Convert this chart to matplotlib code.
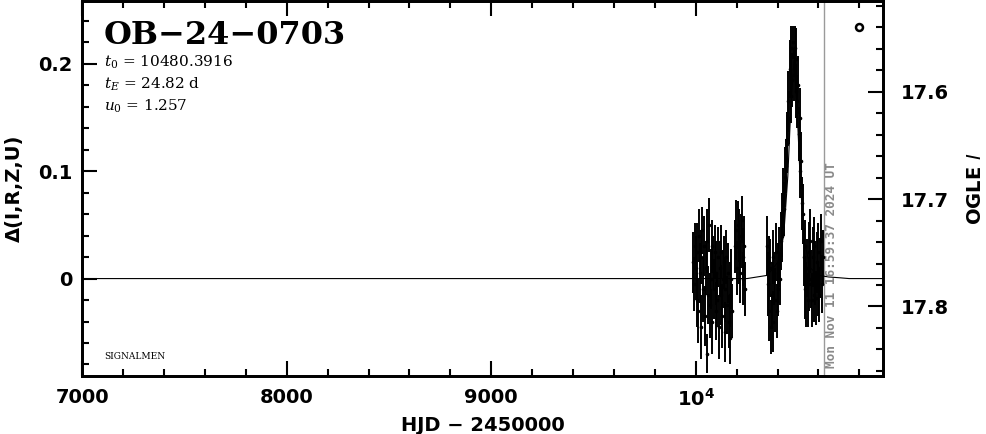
import matplotlib
matplotlib.use("Agg")
from matplotlib import pyplot
from matplotlib.lines import Line2D
from matplotlib.ticker import MultipleLocator, FixedLocator, FixedFormatter
import matplotlib.transforms as mtransforms

# photometry: HJD-2450000, delta mag, error
hjd = [
    9988, 9992, 9996, 10000, 10004, 10008, 10012, 10016, 10020, 10024,
    10028, 10032, 10036, 10040, 10044, 10048, 10053, 10057, 10061, 10065,
    10069, 10073, 10077, 10081, 10085, 10089, 10093, 10097, 10101, 10105,
    10109, 10113, 10117, 10121, 10125, 10129, 10133, 10137, 10141, 10145,
    10149, 10153, 10157, 10161, 10165, 10169, 10173, 10177,
    10193, 10197, 10201, 10205, 10209, 10213, 10217, 10221, 10225, 10229,
    10233, 10237, 10241,
    10348, 10352, 10356, 10360, 10364, 10368, 10372, 10376, 10380, 10384,
    10388, 10392, 10396, 10400, 10404, 10408, 10412, 10416, 10420, 10424,
    10428, 10432, 10436, 10440, 10444, 10448, 10452, 10456, 10460, 10464,
    10468, 10472, 10476, 10480, 10484, 10488, 10492, 10496, 10500, 10504,
    10508, 10512, 10516, 10520, 10524,
    10528, 10532, 10536, 10540, 10544, 10548, 10552, 10556, 10560, 10564,
    10568, 10572, 10576, 10580, 10584, 10588, 10592, 10596, 10600, 10604,
    10608, 10612, 10616, 10620,
]
delta = [
    0.015, -0.005, 0.030, 0.010, -0.020, 0.025, -0.030, 0.040, 0.005, -0.045,
    0.020, 0.045, -0.010, 0.030, -0.035, 0.010, -0.070, 0.035, -0.015, 0.050,
    -0.025, 0.000, 0.030, -0.040, 0.015, -0.010, 0.025, -0.030, 0.005, -0.020,
    0.020, -0.045, 0.010, -0.015, 0.025, -0.035, 0.000, 0.015, -0.050, -0.010,
    0.020, -0.025, 0.005, -0.040, -0.015, -0.055, 0.000, -0.030,
    0.030, 0.045, 0.010, 0.050, 0.025, 0.040, 0.005, 0.035, 0.055, 0.020,
    0.000, 0.030, -0.010,
    0.030, -0.005, 0.015, -0.030, 0.010, -0.045, -0.015, 0.020, -0.040, 0.000,
    -0.020, 0.025, -0.030, 0.005, -0.010, 0.020, 0.000, 0.035, 0.050, 0.040,
    0.075, 0.065, 0.095, 0.105, 0.125, 0.130, 0.165, 0.150, 0.195, 0.170,
    0.215, 0.185, 0.220, 0.190, 0.215, 0.175, 0.205, 0.165, 0.180, 0.135,
    0.150, 0.100, 0.110, 0.070, 0.060,
    0.020, -0.010, 0.030, -0.015, 0.010, -0.020, 0.025, -0.005, 0.035, 0.000,
    -0.020, 0.020, -0.015, 0.030, 0.005, -0.018, 0.015, -0.010, 0.025, -0.015,
    0.010, 0.035, -0.005, 0.020,
]
err = [
    0.028, 0.025, 0.022, 0.030, 0.025, 0.027, 0.030, 0.025, 0.028, 0.030,
    0.025, 0.022, 0.030, 0.028, 0.028, 0.025, 0.018, 0.030, 0.027, 0.025,
    0.030, 0.028, 0.025, 0.030, 0.025, 0.028, 0.025, 0.027, 0.030, 0.025,
    0.028, 0.030, 0.025, 0.028, 0.025, 0.030, 0.027, 0.025, 0.028, 0.030,
    0.025, 0.027, 0.028, 0.025, 0.030, 0.025, 0.028, 0.025,
    0.025, 0.028, 0.025, 0.022, 0.030, 0.025, 0.028, 0.025, 0.022, 0.027,
    0.025, 0.028, 0.025,
    0.028, 0.030, 0.025, 0.028, 0.027, 0.025, 0.030, 0.025, 0.028, 0.025,
    0.030, 0.027, 0.025, 0.028, 0.025, 0.028, 0.025, 0.027, 0.030, 0.025,
    0.028, 0.025, 0.028, 0.025, 0.027, 0.025, 0.028, 0.025, 0.027, 0.025,
    0.020, 0.025, 0.015, 0.025, 0.020, 0.025, 0.028, 0.025, 0.027, 0.025,
    0.028, 0.025, 0.027, 0.025, 0.028,
    0.027, 0.028, 0.025, 0.030, 0.027, 0.025, 0.028, 0.025, 0.030, 0.027,
    0.025, 0.028, 0.025, 0.027, 0.030, 0.025, 0.028, 0.025, 0.027, 0.025,
    0.028, 0.025, 0.027, 0.025,
]

# fitted model curve
model_t = [7000, 10250, 10300, 10350, 10400, 10430, 10450, 10465, 10480,
           10495, 10510, 10530, 10560, 10600, 10650, 10700, 10750, 10914]
model_d = [0.0, 0.0, 0.0015, 0.003, 0.015, 0.04, 0.095, 0.16, 0.203,
           0.16, 0.095, 0.035, 0.01, 0.003, 0.0015, 0.0008, 0.0, 0.0]

event = "OB\u221224\u22120703"
t0 = "10480.3916"
tE = "24.82"
u0 = "1.257"
base_mag = 17.774
t_now = 10626.21
now_label = "Mon Nov 11 16:59:37 2024 UT"

xlim = (7000, 10914)
ylim = (-0.0905, 0.2586)

tickfont = {"family": "DejaVu Sans", "weight": "bold", "size": 14}

figure = pyplot.figure(figsize=(9.86, 4.34), dpi=100)
ax = figure.add_axes([0.0835, 0.1343, 0.8117, 0.8634])

ax.plot(model_t, model_d, color="black", lw=0.8, zorder=2)
ax.errorbar(hjd, delta, yerr=err, fmt="o", ms=1.6, color="black",
            ecolor="black", elinewidth=1.4, capsize=0, zorder=3)
ax.axvline(t_now, color="#9a9a9a", lw=1.0, zorder=1)

ax.set_xlim(*xlim)
ax.set_ylim(*ylim)

ax.xaxis.set_major_locator(FixedLocator([7000, 8000, 9000, 10000]))
ax.xaxis.set_major_formatter(FixedFormatter(["7000", "8000", "9000", r"$\mathbf{10^4}$"]))
ax.xaxis.set_minor_locator(MultipleLocator(200))
ax.yaxis.set_major_locator(FixedLocator([0, 0.1, 0.2]))
ax.yaxis.set_major_formatter(FixedFormatter(["0", "0.1", "0.2"]))
ax.yaxis.set_minor_locator(MultipleLocator(0.02))

ax.tick_params(which="both", direction="in", top=True, right=False, width=1.5)
ax.tick_params(which="major", length=10.5)
ax.tick_params(which="minor", length=5)
ax.tick_params(axis="x", pad=9)
ax.tick_params(axis="y", pad=7)
for lab in ax.get_xticklabels() + ax.get_yticklabels():
    lab.set_fontproperties(tickfont)
for s in ax.spines.values():
    s.set_linewidth(2)

ax.set_xlabel("HJD \u2212 2450000", fontdict=tickfont, labelpad=4)
ax.set_ylabel("\u0394(I,R,Z,U)", fontdict=tickfont, labelpad=10)

ax2 = ax.twinx()
ax2.set_ylim(base_mag - ylim[0], base_mag - ylim[1])
ax2.yaxis.set_major_locator(FixedLocator([17.6, 17.7, 17.8]))
ax2.yaxis.set_major_formatter(FixedFormatter(["17.6", "17.7", "17.8"]))
ax2.yaxis.set_minor_locator(MultipleLocator(0.02))
ax2.tick_params(which="both", direction="in", width=1.5, pad=13)
ax2.tick_params(which="major", length=10.5)
ax2.tick_params(which="minor", length=5)
for lab in ax2.get_yticklabels():
    lab.set_fontproperties(tickfont)
for s in ax2.spines.values():
    s.set_linewidth(2)
ax2.set_ylabel(r"OGLE $\mathit{I}$", fontdict=tickfont, rotation=90, labelpad=12)

pyplot.rcParams["mathtext.fontset"] = "dejavuserif"
ax.text(0.027, 0.885, event, transform=ax.transAxes, family="DejaVu Serif",
        fontsize=23, fontweight="bold", va="baseline")
ax.text(0.027, 0.826, r"$t_0$ = " + t0, transform=ax.transAxes,
        family="DejaVu Serif", fontsize=11, va="baseline")
ax.text(0.027, 0.767, r"$t_E$ = " + tE + " d", transform=ax.transAxes,
        family="DejaVu Serif", fontsize=11, va="baseline")
ax.text(0.027, 0.708, r"$u_0$ = " + u0, transform=ax.transAxes,
        family="DejaVu Serif", fontsize=11, va="baseline")
ax.text(0.027, 0.045, "SIGNALMEN", transform=ax.transAxes,
        family="DejaVu Serif", fontsize=6.5, va="baseline")

trans = mtransforms.blended_transform_factory(ax.transData, ax.transAxes)
trans = trans + mtransforms.ScaledTranslation(1.5 / 100, 0, figure.dpi_scale_trans)
ax.text(t_now, 0.02, now_label, transform=trans, rotation=90, ha="left",
        va="bottom", family="DejaVu Sans Mono", fontweight="bold",
        fontsize=9.2, color="#8a8a8a")

marker = Line2D([], [], marker="o", ls="none", mfc="white", mec="black",
                ms=5, mew=1.8)
ax.legend(handles=[marker], labels=[""], loc="upper right", frameon=False,
          handlelength=0.6, handletextpad=0.0, borderaxespad=1.0)

pyplot.savefig("out.png", dpi=100)
